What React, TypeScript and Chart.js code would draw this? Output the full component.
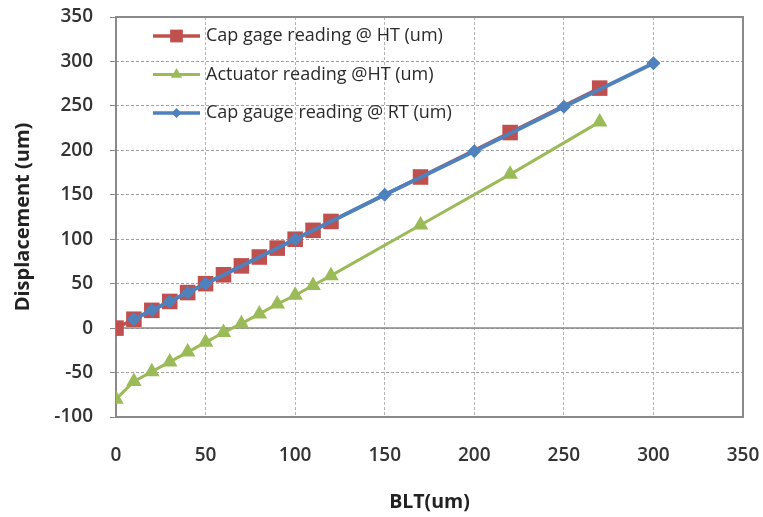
import React, { useEffect, useRef } from "react";
import { Chart, registerables } from "chart.js";

Chart.register(...registerables);

// ---- data ----
const capHT_x = [0, 10, 20, 30, 40, 50, 60, 70, 80, 90, 100, 110, 120, 170, 220, 270];
const capHT_y = [0, 10, 20, 30, 40, 50, 60, 70, 80, 90, 100, 110, 120, 170, 220, 270];
const actHT_x = [0, 10, 20, 30, 40, 50, 60, 70, 80, 90, 100, 110, 120, 170, 220, 270];
const actHT_y = [-80, -60, -49, -38, -27, -16, -5, 5, 16, 27, 37, 48, 59, 116, 173, 232];
const capRT_x = [10, 20, 30, 40, 50, 100, 150, 200, 250, 300];
const capRT_y = [10, 20, 30, 40, 50, 100, 150, 199, 249, 298];

const seriesNames = [
  "Cap gage reading @ HT (um)",
  "Actuator reading @HT (um)",
  "Cap gauge reading @ RT (um)",
];
const xAxisTitle = "BLT(um)";
const yAxisTitle = "Displacement (um)";
const xMin = 0, xMax = 350, xStep = 50;
const yMin = -100, yMax = 350, yStep = 50;

const RED = "#C0504D";
const GREEN = "#9BBB59";
const BLUE = "#4F81BD";
const FONT = "'Open Sans', 'Liberation Sans', sans-serif";

const zip = (xs: number[], ys: number[]) => xs.map((x, i) => ({ x, y: ys[i] }));

function drawMarker(ctx: CanvasRenderingContext2D, style: string, x: number, y: number, r: number, color: string) {
  ctx.save();
  ctx.fillStyle = color;
  ctx.beginPath();
  if (style === "rect") {
    const s = Math.SQRT1_2 * r;
    ctx.rect(x - s, y - s, 2 * s, 2 * s);
  } else if (style === "triangle") {
    ctx.moveTo(x, y - r);
    ctx.lineTo(x + r * 0.866, y + r / 2);
    ctx.lineTo(x - r * 0.866, y + r / 2);
    ctx.closePath();
  } else {
    ctx.moveTo(x, y - r);
    ctx.lineTo(x + r, y);
    ctx.lineTo(x, y + r);
    ctx.lineTo(x - r, y);
    ctx.closePath();
  }
  ctx.fill();
  ctx.restore();
}

const frameAndLegend = {
  id: "frameAndLegend",
  beforeDatasetsDraw(chart: any) {
    const { ctx, chartArea } = chart;
    const yScale = chart.scales.y;
    ctx.save();
    ctx.strokeStyle = "#8a8a8a";
    ctx.lineWidth = 1.5;
    ctx.setLineDash([]);
    const y0 = yScale.getPixelForValue(0);
    ctx.beginPath();
    ctx.moveTo(chartArea.left, y0);
    ctx.lineTo(chartArea.right, y0);
    ctx.stroke();
    ctx.lineWidth = 2;
    ctx.strokeRect(chartArea.left, chartArea.top, chartArea.right - chartArea.left, chartArea.bottom - chartArea.top);
    ctx.restore();
  },
  afterDraw(chart: any) {
    const { ctx, chartArea } = chart;
    const items = [
      { name: seriesNames[0], color: RED, style: "rect", r: 9, w: 3.5 },
      { name: seriesNames[1], color: GREEN, style: "triangle", r: 6.5, w: 3 },
      { name: seriesNames[2], color: BLUE, style: "rectRot", r: 5, w: 3.5 },
    ];
    const x0 = chartArea.left + 37;
    const x1 = x0 + 47;
    ctx.save();
    items.forEach((it, i) => {
      const y = chartArea.top + 19 + i * 38.5;
      ctx.strokeStyle = it.color;
      ctx.lineWidth = it.w;
      ctx.beginPath();
      ctx.moveTo(x0, y);
      ctx.lineTo(x1, y);
      ctx.stroke();
      drawMarker(ctx, it.style, (x0 + x1) / 2, y, it.r, it.color);
      ctx.fillStyle = "#2a2a2a";
      ctx.font = `18px ${FONT}`;
      ctx.textBaseline = "middle";
      ctx.textAlign = "left";
      ctx.fillText(it.name, x1 + 6, y);
    });
    ctx.restore();
  },
};

export default function App() {
  const ref = useRef<HTMLCanvasElement | null>(null);

  useEffect(() => {
    if (!ref.current) return;
    const chart = new Chart(ref.current, {
      type: "scatter",
      data: {
        datasets: [
          {
            label: seriesNames[0],
            data: zip(capHT_x, capHT_y),
            showLine: true,
            borderColor: RED,
            backgroundColor: RED,
            borderWidth: 3.5,
            pointStyle: "rect",
            pointRadius: 11,
            pointBorderWidth: 0,
            order: 3,
          },
          {
            label: seriesNames[1],
            data: zip(actHT_x, actHT_y),
            showLine: true,
            borderColor: GREEN,
            backgroundColor: GREEN,
            borderWidth: 3,
            pointStyle: "triangle",
            pointRadius: 9,
            pointBorderWidth: 0,
            order: 2,
          },
          {
            label: seriesNames[2],
            data: zip(capRT_x, capRT_y),
            showLine: true,
            borderColor: BLUE,
            backgroundColor: BLUE,
            borderWidth: 4,
            pointStyle: "rectRot",
            pointRadius: 7,
            pointBorderWidth: 0,
            order: 1,
          },
        ],
      },
      options: {
        responsive: false,
        animation: false,
        layout: { padding: { top: 17, right: 20, left: 0, bottom: 0 } },
        plugins: {
          legend: { display: false },
          tooltip: { enabled: false },
        },
        scales: {
          x: {
            type: "linear",
            min: xMin,
            max: xMax,
            ticks: {
              stepSize: xStep,
              padding: 27,
              color: "#333",
              font: { family: FONT, size: 19, weight: "600" },
            },
            grid: {
              color: "#b5b5b5",
              lineWidth: 1,
              drawTicks: false,
            },
            border: { display: false, dash: [3, 2] },
            title: {
              display: true,
              text: xAxisTitle,
              color: "#222",
              font: { family: FONT, size: 19.5, weight: "bold" },
              padding: { top: 0, bottom: 3 },
            },
            afterFit: (s: any) => {
              s.height = 100;
              s.paddingLeft = 0;
              s.paddingRight = 0;
            },
          },
          y: {
            type: "linear",
            min: yMin,
            max: yMax,
            ticks: {
              stepSize: yStep,
              padding: 17,
              color: "#333",
              font: { family: FONT, size: 19, weight: "600" },
            },
            grid: {
              color: "#a0a0a0",
              lineWidth: 1,
              drawTicks: true,
              tickLength: 6,
              tickColor: "#8a8a8a",
            },
            border: { display: false, dash: [3, 2] },
            title: {
              display: true,
              text: yAxisTitle,
              color: "#222",
              font: { family: FONT, size: 20, weight: "bold" },
              padding: { top: 11, bottom: 0 },
            },
            afterFit: (s: any) => {
              s.width = 116;
              s.paddingTop = 0;
              s.paddingBottom = 0;
            },
          },
        },
      },
      plugins: [frameAndLegend],
    });
    return () => chart.destroy();
  }, []);

  return (
    <div style={{ position: "fixed", left: 0, top: 0, width: 763, height: 517, background: "#fff" }}>
      <canvas ref={ref} width={763} height={517} />
    </div>
  );
}
